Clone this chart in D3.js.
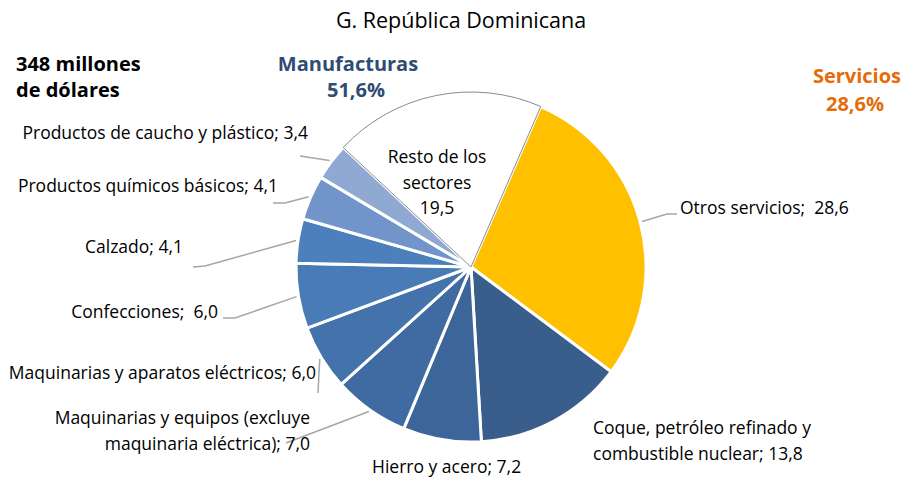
<!DOCTYPE html>
<html>
<head>
<meta charset="utf-8">
<script src="https://cdn.jsdelivr.net/npm/d3@7"></script>
<style>
  body { margin: 0; background: #fff; }
  svg text { font-family: "Open Sans", "Noto Sans", sans-serif; fill: #000; }
</style>
</head>
<body>
<div id="canvas"></div>
<script>
// data, clockwise starting from the yellow slice
var categories = ['Otros servicios', 'Coque, petróleo refinado y combustible nuclear', 'Hierro y acero',
  'Maquinarias y equipos (excluye maquinaria eléctrica)', 'Maquinarias y aparatos eléctricos',
  'Confecciones', 'Calzado', 'Productos químicos básicos', 'Productos de caucho y plástico', 'Resto de los sectores'];
var values = [28.6, 13.8, 7.2, 7.0, 6.0, 6.0, 4.1, 4.1, 3.4, 19.5];
var labelLines = [
  ['Otros servicios;  28,6'],
  ['Coque, petróleo refinado y', 'combustible nuclear; 13,8'],
  ['Hierro y acero; 7,2'],
  ['Maquinarias y equipos (excluye', 'maquinaria eléctrica); 7,0'],
  ['Maquinarias y aparatos eléctricos; 6,0'],
  ['Confecciones;  6,0'],
  ['Calzado; 4,1'],
  ['Productos químicos básicos; 4,1'],
  ['Productos de caucho y plástico; 3,4'],
  ['Resto de los', 'sectores', '19,5']
];
var colors = ['#FFC000', '#395E8B', '#3C6599', '#3F6BA2', '#4472AA', '#497BB6', '#4C80BD', '#7194CA', '#8FA9D3', '#FFFFFF'];

// label placement (x, first baseline, anchor, size) and leader bends
var labelPos = [
  {x: 680, y: 214, a: 'start', fs: 17.5, lead: [[667, 214], [677, 214]]},
  {x: 593, y: 434, a: 'start', fs: 17.5, lead: null},
  {x: 372, y: 473, a: 'start', fs: 17.5, lead: null},
  {x: 310, y: 424, a: 'end', fs: 17.5, lead: [[286, 443]]},
  {x: 316, y: 379, a: 'end', fs: 17.5, lead: [[318, 393]]},
  {x: 218, y: 318, a: 'end', fs: 17.5, lead: [[235, 318], [223, 318]]},
  {x: 183, y: 253, a: 'end', fs: 17.5, lead: [[205, 266], [193, 267]]},
  {x: 278, y: 192, a: 'end', fs: 17.5, lead: [[285, 203], [273, 203]]},
  {x: 308, y: 139, a: 'end', fs: 17.5, lead: [[300, 156]]},
  {x: 437, y: 163, a: 'middle', fs: 17.5, lead: null}
];

var W = 904, H = 483;
var cx = 471, cy = 267, r = 175;
var startA = 23.5 * Math.PI / 180;

var svg = d3.select('#canvas').append('svg')
  .attr('width', W).attr('height', H);

var pie = d3.pie().sort(null).value(function(d){ return d; })
  .startAngle(startA).endAngle(startA + 2 * Math.PI);
var arcs = pie(values);
var arc = d3.arc().innerRadius(0).outerRadius(r);

var g = svg.append('g').attr('transform', 'translate(' + cx + ',' + cy + ')');

g.selectAll('path.slice')
  .data(arcs)
  .enter().append('path')
  .attr('class', 'slice')
  .attr('d', arc)
  .attr('fill', function(d, i){ return colors[i]; })
  .attr('stroke', function(d, i){ return i === 9 ? '#8C8C8C' : '#fff'; })
  .attr('stroke-width', function(d, i){ return i === 9 ? 1 : 3; })
  .attr('stroke-linejoin', 'round');

// put the resto slice on top so its grey outline shows
g.selectAll('path.slice').filter(function(d, i){ return i === 9; }).raise();

// leader lines
var line = d3.line();
arcs.forEach(function(d, i){
  var p = labelPos[i];
  if (!p.lead) return;
  var mid = (d.startAngle + d.endAngle) / 2;
  var edge = [cx + (r + 2) * Math.sin(mid), cy - (r + 2) * Math.cos(mid)];
  svg.append('path')
    .attr('d', line([edge].concat(p.lead)))
    .attr('fill', 'none')
    .attr('stroke', '#A6A6A6')
    .attr('stroke-width', 1.5);
});

// slice labels
labelLines.forEach(function(lines, i){
  var p = labelPos[i];
  var t = svg.append('text')
    .attr('text-anchor', p.a)
    .attr('xml:space', 'preserve')
    .style('white-space', 'pre')
    .style('font-size', p.fs + 'px');
  lines.forEach(function(s, k){
    t.append('tspan').attr('x', p.x).attr('y', p.y + k * 25.5).text(s);
  });
});

// title and annotations
svg.append('text').attr('x', 461).attr('y', 28).attr('text-anchor', 'middle')
  .style('font-size', '21.5px').text('G. República Dominicana');

var total = svg.append('text').style('font-size', '20px').style('font-weight', 'bold');
total.append('tspan').attr('x', 16).attr('y', 71).text('348 millones');
total.append('tspan').attr('x', 16).attr('y', 97).text('de dólares');

var manu = svg.append('text').attr('text-anchor', 'middle')
  .style('font-size', '20px').style('font-weight', 'bold').style('fill', '#2F4D74');
manu.append('tspan').attr('x', 348).attr('y', 71).text('Manufacturas');
manu.append('tspan').attr('x', 356).attr('y', 97).text('51,6%');

var serv = svg.append('text').attr('text-anchor', 'middle')
  .style('font-size', '20px').style('font-weight', 'bold').style('fill', '#E46C0A');
serv.append('tspan').attr('x', 857).attr('y', 83).text('Servicios');
serv.append('tspan').attr('x', 855).attr('y', 111).text('28,6%');
</script>
</body>
</html>
